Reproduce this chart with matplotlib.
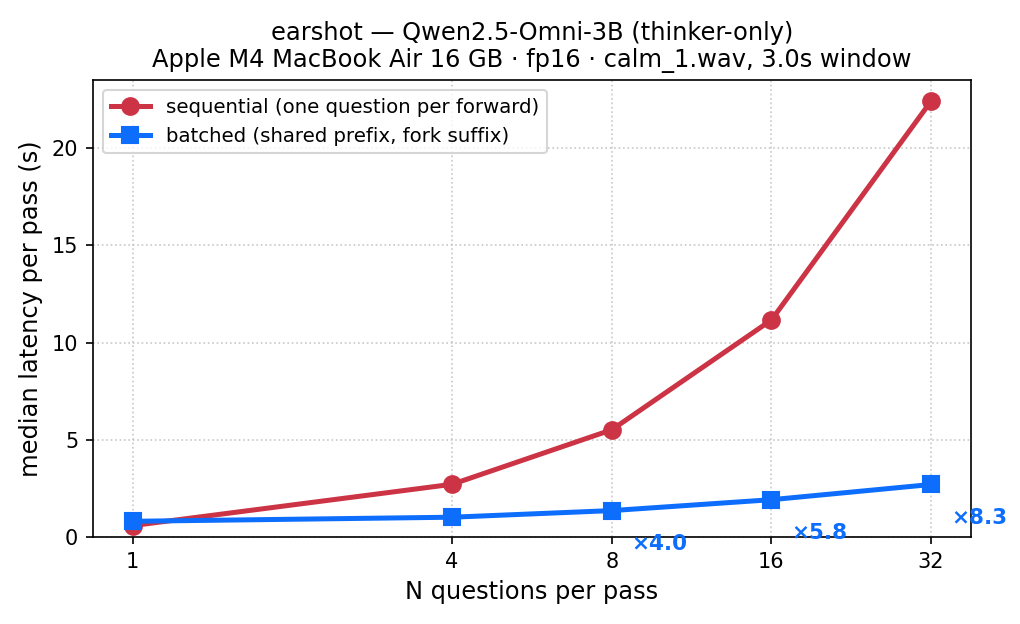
import matplotlib
matplotlib.use("Agg")
import matplotlib.pyplot as plt
from matplotlib.ticker import NullLocator

N = [1, 4, 8, 16, 32]
sequential = [0.60, 2.72, 5.52, 11.16, 22.40]
batched = [0.82, 1.03, 1.37, 1.93, 2.71]
speedup_labels = ["×4.0", "×5.8", "×8.3"]
speedup_at = [8, 16, 32]

RED = "#cc3344"
BLUE = "#0d6efd"

fig, ax = plt.subplots(figsize=(6.8, 4.16), dpi=150)
ax.plot(N, sequential, "-o", color=RED, lw=2.4, ms=8,
        label="sequential (one question per forward)")
ax.plot(N, batched, "-s", color=BLUE, lw=2.4, ms=8,
        label="batched (shared prefix, fork suffix)")
ax.set_xscale("log", base=2)
ax.set_xticks(N)
ax.set_xticklabels([str(n) for n in N])
ax.xaxis.set_minor_locator(NullLocator())
ax.set_ylim(bottom=0)

for lab, n in zip(speedup_labels, speedup_at):
    b = batched[N.index(n)]
    ax.annotate(lab, xy=(n, b), xytext=(9.5, -16), textcoords="offset points",
                ha="left", va="center", color=BLUE, fontsize=10.3,
                fontweight="bold", annotation_clip=False)

ax.grid(True, which="major", linestyle=":", color="#bbbbbb", alpha=0.8, lw=0.8)
ax.set_xlabel("N questions per pass", fontsize=11.6)
ax.set_ylabel("median latency per pass (s)", fontsize=11.6)
ax.set_title("earshot — Qwen2.5-Omni-3B (thinker-only)\n"
             "Apple M4 MacBook Air 16 GB · fp16 · calm_1.wav, 3.0s window",
             fontsize=11.6)
ax.legend(loc="upper left", fontsize=9.5)
fig.subplots_adjust(left=0.091, right=0.952, top=0.872, bottom=0.139)
fig.savefig("out.png", dpi=150)
